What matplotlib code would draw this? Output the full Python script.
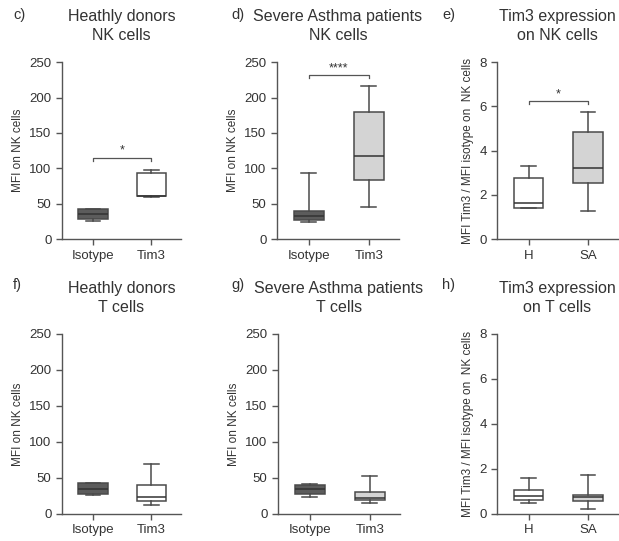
import matplotlib
matplotlib.use("Agg")
import matplotlib.pyplot as plt

plt.rcParams['font.family'] = ['Liberation Sans', 'DejaVu Sans']

# box stats: whislo, q1, med, q3, whishi
c_iso = [26, 28, 36, 43, 43]
c_tim = [59, 61, 61, 94, 97]
d_iso = [24, 27, 33, 40, 93]
d_tim = [46, 83, 117, 179, 217]
e_h = [1.4, 1.42, 1.65, 2.75, 3.3]
e_sa = [1.25, 2.55, 3.2, 4.85, 5.75]
f_iso = [26, 28, 35, 43, 43]
f_tim = [13, 18, 23, 40, 69]
g_iso = [24, 27, 34, 40, 42]
g_tim = [15, 20, 22, 30, 52]
h_h = [0.5, 0.6, 0.78, 1.05, 1.6]
h_sa = [0.22, 0.58, 0.75, 0.85, 1.72]

cat_mfi = ["Isotype", "Tim3"]
cat_ratio = ["H", "SA"]

dark = "#5c5c5c"
light = "#d4d4d4"
white = "#ffffff"
edge = "#4a4a4a"

panels = [
    # label, label pos, title, data, colors, cats, ymax, yticks, ylabel, bracket, stars, rect
    ("c)", (0.021, 0.972), "Heathly donors\nNK cells", [c_iso, c_tim], [dark, white], cat_mfi,
     250, [0, 50, 100, 150, 200, 250], "MFI on NK cells", 115, "*",
     [0.100, 0.558, 0.192, 0.327]),
    ("d)", (0.373, 0.972), "Severe Asthma patients\nNK cells", [d_iso, d_tim], [dark, light], cat_mfi,
     250, [0, 50, 100, 150, 200, 250], "MFI on NK cells", 232, "****",
     [0.4475, 0.558, 0.197, 0.327]),
    ("e)", (0.714, 0.972), "Tim3 expression\non NK cells", [e_h, e_sa], [white, light], cat_ratio,
     8, [0, 2, 4, 6, 8], "MFI Tim3 / MFI isotype on  NK cells", 6.25, "*",
     [0.803, 0.558, 0.195, 0.327]),
    ("f)", (0.021, 0.473), "Heathly donors\nT cells", [f_iso, f_tim], [dark, white], cat_mfi,
     250, [0, 50, 100, 150, 200, 250], "MFI on NK cells", None, None,
     [0.100, 0.050, 0.192, 0.333]),
    ("g)", (0.373, 0.473), "Severe Asthma patients\nT cells", [g_iso, g_tim], [dark, light], cat_mfi,
     250, [0, 50, 100, 150, 200, 250], "MFI on NK cells", None, None,
     [0.449, 0.050, 0.197, 0.333]),
    ("h)", (0.714, 0.473), "Tim3 expression\non T cells", [h_h, h_sa], [white, light], cat_ratio,
     8, [0, 2, 4, 6, 8], "MFI Tim3 / MFI isotype on  NK cells", None, None,
     [0.803, 0.050, 0.195, 0.333]),
]

fig = plt.figure(figsize=(6.19, 5.41), dpi=100)

for label, lpos, title, data, colors, cats, ymax, yticks, ylabel, br, stars, rect in panels:
    ax = fig.add_axes(rect)
    stats = []
    for vals in data:
        stats.append(dict(whislo=vals[0], q1=vals[1], med=vals[2], q3=vals[3],
                          whishi=vals[4], fliers=[]))
    bp = ax.bxp(stats, positions=[1, 2], widths=0.5, capwidths=0.25,
                patch_artist=True, showfliers=False,
                boxprops=dict(edgecolor=edge, linewidth=1.1),
                whiskerprops=dict(color=edge, linewidth=1.1),
                capprops=dict(color=edge, linewidth=1.1),
                medianprops=dict(color="#333333", linewidth=1.1))
    for patch, col in zip(bp["boxes"], colors):
        patch.set_facecolor(col)

    ax.set_xlim(0.47, 2.5)
    ax.set_ylim(0, ymax)
    ax.set_yticks(yticks)
    ax.set_xticks([1, 2])
    ax.set_xticklabels(cats, fontsize=9.5, color="#333333")
    ax.tick_params(axis="y", labelsize=9.5, labelcolor="#333333")
    ax.tick_params(color="#555555", length=4, width=1, direction="out")
    for s in ["top", "right"]:
        ax.spines[s].set_visible(False)
    for s in ["left", "bottom"]:
        ax.spines[s].set_color("#555555")
        ax.spines[s].set_linewidth(1)
    ax.set_ylabel(ylabel, fontsize=8.5, color="#333333", labelpad=4)

    if br is not None:
        h = ymax * 0.02
        ax.plot([1, 1, 2, 2], [br - h, br, br, br - h], color="#555555", lw=0.9,
                clip_on=False)
        ax.text(1.5, br + ymax * 0.005, stars, ha="center", va="bottom",
                fontsize=9, color="#333333")

    cx = rect[0] + rect[2] / 2
    top = rect[1] + rect[3]
    fig.text(cx, top + 0.035, title, ha="center", va="bottom", fontsize=11.5,
             color="#333333", linespacing=1.35)
    fig.text(lpos[0], lpos[1], label, ha="left", va="center", fontsize=10.5,
             color="#333333")

fig.savefig("out.png", dpi=100)
